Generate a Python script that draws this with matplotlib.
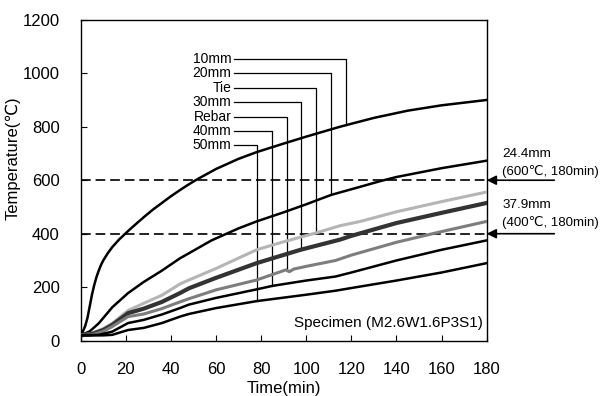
import numpy as np
import matplotlib
matplotlib.use('Agg')
import matplotlib.pyplot as plt

plt.rcParams['font.family'] = ['Liberation Sans', 'DejaVu Sans']

# curves (time in min, temperature in C)
t_10 = [0, 1, 2, 3, 4, 5, 6, 7, 8, 9, 10, 12, 14, 17, 21, 25, 28, 32, 36, 40, 44, 48, 52,
        60, 70, 78, 90, 100, 115, 130, 145, 160, 180]
T_10 = [20, 35, 55, 85, 128, 172, 208, 238, 262, 283, 300, 327, 350, 378, 410, 440, 462, 490, 515, 540, 563, 585, 605,
        642, 680, 705, 737, 763, 800, 833, 860, 880, 900]

t_20 = [0, 4, 8, 14, 21, 28, 36, 44, 48, 58, 70, 78, 90, 100, 111, 125, 133, 140, 160, 180]
T_20 = [20, 35, 65, 125, 178, 220, 262, 308, 327, 375, 420, 446, 480, 510, 545, 578, 597, 612, 645, 673]

t_tie = [0, 5, 10, 14, 21, 28, 36, 44, 48, 60, 78, 90, 104, 115, 124, 140, 160, 180]
T_tie = [20, 28, 45, 65, 113, 140, 170, 212, 227, 270, 340, 370, 402, 430, 446, 482, 520, 556]

t_30 = [0, 5, 10, 14, 21, 28, 36, 44, 48, 60, 78, 97.5, 115, 120, 140, 160, 180]
T_30 = [20, 25, 40, 59, 103, 120, 145, 178, 196, 235, 290, 340, 378, 392, 440, 478, 515]

t_rebar = [0, 5, 10, 14, 21, 28, 36, 44, 48, 60, 78, 91, 92.5, 94.5, 100, 113, 120, 140, 160, 180]
T_rebar = [20, 22, 35, 53, 90, 100, 120, 145, 157, 190, 227, 265, 258, 268, 278, 300, 320, 368, 408, 446]

t_40 = [0, 8, 14, 21, 28, 36, 44, 48, 60, 78, 85, 100, 113, 120, 140, 160, 180]
T_40 = [20, 22, 34, 66, 78, 98, 122, 135, 160, 192, 205, 225, 240, 255, 300, 340, 375]

t_50 = [0, 10, 14, 21, 28, 36, 44, 48, 60, 78, 100, 113, 120, 140, 160, 180]
T_50 = [20, 20, 22, 40, 48, 66, 90, 100, 122, 148, 172, 187, 197, 225, 255, 290]

# leader labels and where each leader drops onto its curve
leader_names = ['10mm', '20mm', 'Tie', '30mm', 'Rebar', '40mm', '50mm']
leader_t = [117.6, 110.8, 104.5, 97.8, 91.6, 84.9, 78.2]

fig = plt.figure(figsize=(6.03, 3.96), dpi=100)
ax = fig.add_axes([0.1338, 0.1396, 0.6733, 0.8106])

curves = [
    (t_10, T_10, 'black', 1.8),
    (t_20, T_20, 'black', 1.8),
    (t_tie, T_tie, '#b5b5b5', 2.2),
    (t_30, T_30, '#333333', 3.0),
    (t_rebar, T_rebar, '#7d7d7d', 2.2),
    (t_40, T_40, 'black', 1.8),
    (t_50, T_50, 'black', 1.8),
]

# leaders
label_top = 1054
label_step = 54
for i, (name, lt) in enumerate(zip(leader_names, leader_t)):
    ly = label_top - i * label_step
    ct, cT, _, _ = curves[i]
    bottom = np.interp(lt, ct, cT)
    ax.plot([67.9, lt, lt], [ly, ly, bottom], color='black', lw=0.9, zorder=2)
    ax.text(66.8, ly, name, ha='right', va='center', fontsize=10)

for ct, cT, col, lw in curves:
    ax.plot(ct, cT, color=col, lw=lw, zorder=3, solid_joinstyle='round')

ax.axhline(600, color='#222222', lw=1.4, ls=(0, (5, 2.5)), zorder=1)
ax.axhline(400, color='#222222', lw=1.4, ls=(0, (5, 2.5)), zorder=1)

# right-side annotations
for yv, txt1, y1, y2 in [(600, '24.4mm', 699, 633), (400, '37.9mm', 506, 442)]:
    ax.annotate('', xy=(180, yv), xytext=(210, yv), annotation_clip=False,
                arrowprops=dict(arrowstyle='-|>', color='black', lw=1.2,
                                mutation_scale=14, shrinkA=0, shrinkB=0))
    ax.text(187, y1, txt1, ha='left', va='center', fontsize=9.7, clip_on=False)
    ax.text(187, y2, '(%d\u2103, 180min)' % yv, ha='left', va='center', fontsize=9.5, clip_on=False)

ax.text(178.2, 66, 'Specimen (M2.6W1.6P3S1)', ha='right', va='center', fontsize=11)

ax.set_xlim(0, 180)
ax.set_ylim(0, 1200)
ax.set_xticks(np.arange(0, 181, 20))
ax.set_yticks(np.arange(0, 1201, 200))
ax.tick_params(direction='in', length=4, width=0.8, labelsize=12, pad=15)
ax.set_xlabel('Time(min)', fontsize=12, labelpad=3)
ax.set_ylabel('Temperature(\u2103)', fontsize=12)
ax.yaxis.set_label_coords(-0.147, 0.57)
for s in ax.spines.values():
    s.set_linewidth(1.0)

fig.savefig('out.png', dpi=100)
